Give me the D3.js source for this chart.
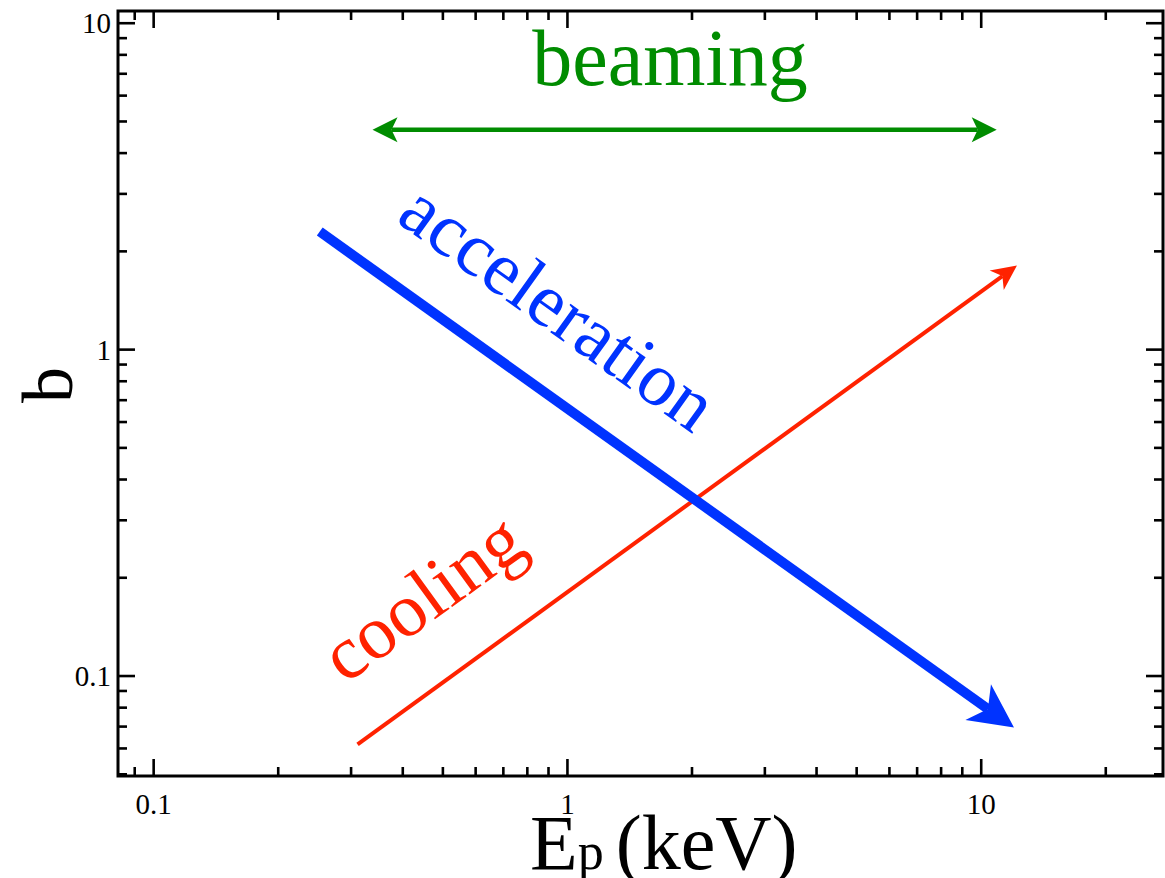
<!DOCTYPE html>
<html>
<head>
<meta charset="utf-8">
<script src="https://cdn.jsdelivr.net/npm/d3@7"></script>
<style>
  html, body { margin: 0; padding: 0; background: #fff; }
  svg { display: block; font-family: "Liberation Serif", "Times New Roman", serif; }
</style>
</head>
<body>
<script>
// axis ranges and labelled ticks
const xDomain = [0.082, 27.5];
const yDomain = [0.0494, 10.9];
const xMajor = [0.1, 1, 10];
const yMajor = [0.1, 1, 10];
const xTickLabels = ["0.1", "1", "10"];
const yTickLabels = ["0.1", "1", "10"];

// trend arrows, [E_p, b] at start and end
const accelArrow = [[0.252, 2.30], [12.0, 0.0695]];
const coolArrow = [[0.311, 0.0617], [12.2, 1.81]];
const beamArrow = [[0.338, 4.72], [10.9, 4.72]];

// label anchors (data coords)
const accelLabel = [0.382, 2.48];
const coolLabel = [0.29, 0.094];
const beamLabel = [1.77, 6.47];

const width = 1165, height = 878;
const margin = {left: 118, right: 2, top: 11, bottom: 102};

const x = d3.scaleLog().domain(xDomain).range([margin.left, width - margin.right]);
const y = d3.scaleLog().domain(yDomain).range([height - margin.bottom, margin.top]);

const svg = d3.select("body").append("svg")
    .attr("width", width)
    .attr("height", height);

// minor ticks: 2..9 times each decade inside the domain
function minorTicks(dom) {
    const out = [];
    for (let e = -3; e <= 3; e++) {
        for (let m = 2; m <= 9; m++) {
            const v = m * Math.pow(10, e);
            if (v >= dom[0] && v <= dom[1]) out.push(v);
        }
    }
    return out;
}

const axisColor = "#000";
const sw = 2.6;
const majorLen = 17, minorLen = 9;

const frame = svg.append("g");
const x0 = x.range()[0], x1 = x.range()[1];
const yb = y.range()[0], yt = y.range()[1];

// x ticks (bottom pointing up, top pointing down)
const xt = xMajor.map(v => ({v, len: majorLen})).concat(minorTicks(xDomain).map(v => ({v, len: minorLen})));
frame.selectAll("line.xb").data(xt).join("line")
    .attr("x1", d => x(d.v)).attr("x2", d => x(d.v))
    .attr("y1", yb).attr("y2", d => yb - d.len)
    .attr("stroke", axisColor).attr("stroke-width", sw);
frame.selectAll("line.xt").data(xt).join("line")
    .attr("x1", d => x(d.v)).attr("x2", d => x(d.v))
    .attr("y1", yt).attr("y2", d => yt + d.len)
    .attr("stroke", axisColor).attr("stroke-width", sw);

// y ticks (left pointing right, right pointing left)
const ytk = yMajor.map(v => ({v, len: majorLen})).concat(minorTicks(yDomain).map(v => ({v, len: minorLen})));
frame.selectAll("line.yl").data(ytk).join("line")
    .attr("y1", d => y(d.v)).attr("y2", d => y(d.v))
    .attr("x1", x0).attr("x2", d => x0 + d.len)
    .attr("stroke", axisColor).attr("stroke-width", sw);
frame.selectAll("line.yr").data(ytk).join("line")
    .attr("y1", d => y(d.v)).attr("y2", d => y(d.v))
    .attr("x1", x1).attr("x2", d => x1 - d.len)
    .attr("stroke", axisColor).attr("stroke-width", sw);

frame.append("rect")
    .attr("x", x0).attr("y", yt)
    .attr("width", x1 - x0).attr("height", yb - yt)
    .attr("fill", "none").attr("stroke", axisColor).attr("stroke-width", 3);

// tick labels
svg.append("g").selectAll("text").data(xMajor).join("text")
    .attr("x", d => x(d)).attr("y", yb + 38)
    .attr("text-anchor", "middle")
    .attr("font-size", 29)
    .text((d, i) => xTickLabels[i]);

svg.append("g").selectAll("text").data(yMajor).join("text")
    .attr("x", x0 - 7).attr("y", d => y(d) + 10)
    .attr("text-anchor", "end")
    .attr("font-size", 29)
    .text((d, i) => yTickLabels[i]);

// axis titles
const xTitle = svg.append("text")
    .attr("x", 530).attr("y", 869)
    .attr("font-size", 78);
xTitle.append("tspan").text("E");
xTitle.append("tspan").attr("font-size", 52).text("p");
xTitle.append("tspan").attr("dx", 12).text("(keV)");

svg.append("text")
    .attr("transform", "translate(72,385) rotate(-90)")
    .attr("text-anchor", "middle")
    .attr("font-size", 72)
    .text("b");

// arrowhead polygon: tip, two barbs, notch
function headPath(p0, p1, len, half, notch) {
    const dx = p1[0] - p0[0], dy = p1[1] - p0[1];
    const L = Math.hypot(dx, dy);
    const ux = dx / L, uy = dy / L, nx = -uy, ny = ux;
    const bx = p1[0] - ux * len, by = p1[1] - uy * len;
    const kx = p1[0] - ux * notch, ky = p1[1] - uy * notch;
    return `M${p1[0]},${p1[1]}L${bx + nx * half},${by + ny * half}L${kx},${ky}L${bx - nx * half},${by - ny * half}Z`;
}
function shaftEnd(p0, p1, back) {
    const dx = p1[0] - p0[0], dy = p1[1] - p0[1];
    const L = Math.hypot(dx, dy);
    return [p1[0] - dx / L * back, p1[1] - dy / L * back];
}

function drawArrow(pts, color, stroke, len, half, notch, both) {
    const p0 = [x(pts[0][0]), y(pts[0][1])];
    const p1 = [x(pts[1][0]), y(pts[1][1])];
    const a = both ? shaftEnd(p1, p0, notch) : p0;
    const b = shaftEnd(p0, p1, notch);
    const g = svg.append("g");
    g.append("line")
        .attr("x1", a[0]).attr("y1", a[1]).attr("x2", b[0]).attr("y2", b[1])
        .attr("stroke", color).attr("stroke-width", stroke);
    g.append("path").attr("d", headPath(p0, p1, len, half, notch)).attr("fill", color);
    if (both) g.append("path").attr("d", headPath(p1, p0, len, half, notch)).attr("fill", color);
}

const blue = "#0033ff", red = "#ff2200", green = "#008c00";

drawArrow(coolArrow, red, 4, 25, 12, 18, false);
drawArrow(accelArrow, blue, 10, 44, 22, 32, false);
drawArrow(beamArrow, green, 4.5, 25, 12.5, 19, true);

// labels
const ang = (pts) => {
    const dx = x(pts[1][0]) - x(pts[0][0]), dy = y(pts[1][1]) - y(pts[0][1]);
    return Math.atan2(dy, dx) * 180 / Math.PI;
};

svg.append("text")
    .attr("transform", `translate(${x(accelLabel[0])},${y(accelLabel[1])}) rotate(${ang(accelArrow)})`)
    .attr("font-size", 76)
    .attr("fill", blue)
    .text("acceleration");

svg.append("text")
    .attr("transform", `translate(${x(coolLabel[0])},${y(coolLabel[1])}) rotate(${ang(coolArrow)})`)
    .attr("font-size", 76)
    .attr("fill", red)
    .text("cooling");

svg.append("text")
    .attr("x", x(beamLabel[0])).attr("y", y(beamLabel[1]))
    .attr("text-anchor", "middle")
    .attr("font-size", 80)
    .attr("fill", green)
    .text("beaming");
</script>
</body>
</html>
